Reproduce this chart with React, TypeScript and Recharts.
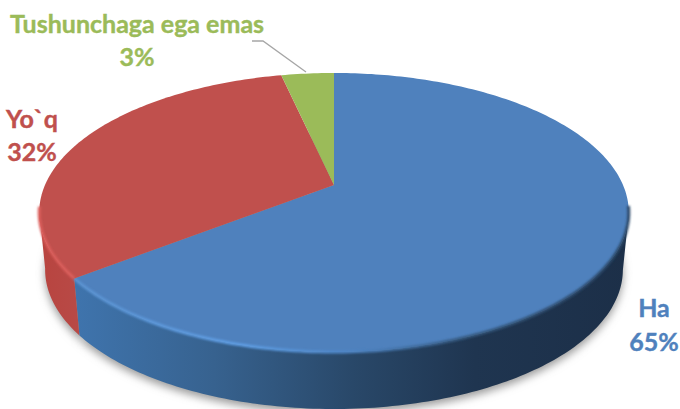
import React from 'react';
import { PieChart, Pie } from 'recharts';

const categories = ['Ha', 'Yo`q', 'Tushunchaga ega emas'];
const values = [64.5, 32.0, 3.49];
const colors = ['#4f81bd', '#c0504d', '#9bbb59'];
const wallFills = ['url(#wallBlue)', 'url(#wallRed)', '#7d9a45'];
const rimStrokes = ['url(#rimBlue)', '#dc5f5c', 'none'];

const tableData = categories.map((name, i) => ({ name, value: values[i] }));

const WIDTH = 680;
const HEIGHT = 409;
const CX = 334;
const CY = 185;
const RADIUS = 289;

// the top face is a circle seen in perspective, so the apex sits above the ellipse centre
const TILT = 0.197;
const SQUASH = 0.464;
const DEPTH = 57;
const BOTTOM_SCALE = 0.98;

const FONT = 'Lato, Carlito, "Open Sans", sans-serif';
const LABEL_SIZE = 25;

// label anchors: centre x, first baseline, second baseline
const labelSpots = [
  { x: 654, y1: 317, y2: 351 },
  { x: 32, y1: 128, y2: 161 },
  { x: 137, y1: 33, y2: 66 },
];

const project = (cx: number, cy: number, r: number, deg: number) => {
  const rad = (deg * Math.PI) / 180;
  const u = Math.cos(rad);
  const v = Math.sin(rad);
  const w = 1 + TILT * v;
  return { x: cx + (r * u) / w, y: cy - (r * SQUASH * v) / w, v };
};

const sampleArc = (p: any) => {
  const { cx, cy, outerRadius, startAngle, endAngle } = p;
  const steps = Math.max(2, Math.ceil(Math.abs(endAngle - startAngle)));
  const out = [];
  for (let i = 0; i <= steps; i++) {
    out.push(project(cx, cy, outerRadius, startAngle + ((endAngle - startAngle) * i) / steps));
  }
  return out;
};

const toPath = (pts: { x: number; y: number }[]) =>
  pts.map((q, i) => `${i ? 'L' : 'M'}${q.x.toFixed(2)} ${q.y.toFixed(2)}`).join(' ');

const lower = (q: { x: number; y: number }, cx: number) => ({
  x: cx + (q.x - cx) * BOTTOM_SCALE,
  y: q.y + DEPTH,
});

const ShadowShape = (p: any) => {
  const arc = sampleArc(p).map((q) => lower(q, p.cx));
  return (
    <path
      d={`${toPath(arc)} L${p.cx} ${p.cy + DEPTH} Z`}
      fill="#9a9a9a"
      filter="url(#softShadow)"
      transform="translate(0,4)"
    />
  );
};

// only the part of the rim facing the viewer, so the strip does not fold over itself
const WallShape = (p: any) => {
  const arc = sampleArc(p).filter((q) => q.v <= -TILT + 0.01);
  if (arc.length < 2) return <g />;
  const bottom = arc.map((q) => lower(q, p.cx)).reverse();
  return <path d={`${toPath([...arc, ...bottom])} Z`} fill={wallFills[p.index]} stroke="none" />;
};

const TopShape = (p: any) => {
  const arc = sampleArc(p);
  const front = arc.filter((q) => q.v <= -0.15);
  return (
    <g>
      <path d={`M${p.cx} ${p.cy} ${toPath(arc).replace('M', 'L')} Z`} fill={colors[p.index]} stroke="none" />
      {front.length > 1 && rimStrokes[p.index] !== 'none' && (
        <path
          d={toPath(front)}
          fill="none"
          stroke={rimStrokes[p.index]}
          strokeWidth={3}
          filter="url(#softRim)"
        />
      )}
    </g>
  );
};

const renderLabel = (p: any) => {
  const spot = labelSpots[p.index];
  const color = colors[p.index];
  const textProps = {
    textAnchor: 'middle' as const,
    fill: color,
    stroke: color,
    strokeWidth: 0.4,
    fontFamily: FONT,
    fontWeight: 700,
    fontSize: LABEL_SIZE,
  };
  return (
    <g key={p.name}>
      {p.index === 2 && (
        <polyline points="252,41 263,41 306,72" fill="none" stroke="#a6a6a6" strokeWidth={1.3} />
      )}
      <text x={spot.x} y={spot.y1} {...textProps}>
        {p.name}
      </text>
      <text x={spot.x} y={spot.y2} {...textProps}>
        {`${Math.round(p.value)}%`}
      </text>
    </g>
  );
};

export default function App() {
  const pieProps = {
    data: tableData,
    dataKey: 'value',
    nameKey: 'name',
    cx: CX,
    cy: CY,
    outerRadius: RADIUS,
    startAngle: 90,
    endAngle: -270,
    stroke: 'none',
    isAnimationActive: false,
  };

  return (
    <div style={{ position: 'absolute', left: 0, top: 0, width: WIDTH, height: HEIGHT, overflow: 'hidden', background: '#fff' }}>
      <PieChart width={WIDTH} height={HEIGHT} margin={{ top: 0, right: 0, bottom: 0, left: 0 }}>
        <defs>
          <filter id="softShadow" x="-10%" y="-10%" width="120%" height="120%">
            <feGaussianBlur stdDeviation="4" />
          </filter>
          <filter id="softRim" x="-10%" y="-20%" width="120%" height="140%">
            <feGaussianBlur stdDeviation="1" />
          </filter>
          <linearGradient id="wallBlue" gradientUnits="userSpaceOnUse" x1="75" y1="0" x2="630" y2="0">
            <stop offset="0" stopColor="#3f74ad" />
            <stop offset="0.25" stopColor="#37628f" />
            <stop offset="0.5" stopColor="#294869" />
            <stop offset="0.72" stopColor="#1f3550" />
            <stop offset="1" stopColor="#1c2f48" />
          </linearGradient>
          <linearGradient id="wallRed" gradientUnits="userSpaceOnUse" x1="40" y1="0" x2="80" y2="0">
            <stop offset="0" stopColor="#b8443f" />
            <stop offset="1" stopColor="#b84a47" />
          </linearGradient>
          <linearGradient id="rimBlue" gradientUnits="userSpaceOnUse" x1="75" y1="0" x2="630" y2="0">
            <stop offset="0" stopColor="#5b93d2" />
            <stop offset="0.3" stopColor="#5f9fe6" />
            <stop offset="0.5" stopColor="#4d84c4" />
            <stop offset="0.7" stopColor="#35597f" />
            <stop offset="1" stopColor="#2b4767" />
          </linearGradient>
        </defs>
        <Pie {...pieProps} shape={ShadowShape} />
        <Pie {...pieProps} shape={WallShape} />
        <Pie {...pieProps} shape={TopShape} label={renderLabel} labelLine={false} />
      </PieChart>
    </div>
  );
}
